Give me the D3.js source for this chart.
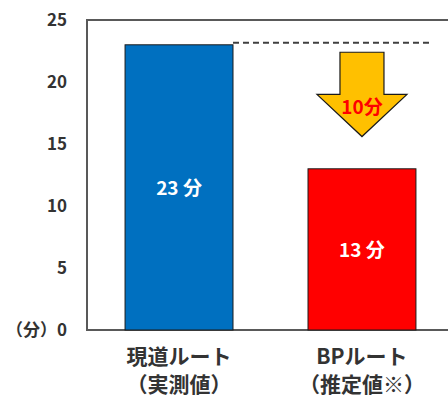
<!DOCTYPE html>
<html>
<head>
<meta charset="utf-8">
<script src="https://cdn.jsdelivr.net/npm/d3@7"></script>
<style>
  body { margin: 0; background: #fff; }
  text { font-family: "Noto Sans CJK JP", "Noto Sans", sans-serif; font-weight: bold; }
</style>
</head>
<body>
<svg id="chart"></svg>
<script>
let width = 448;
let height = 402;
let margin = { top: 20, right: -6, bottom: 72, left: 87 };

// data
const categories = ['現道ルート', 'BPルート'];
const subLabels = ['（実測値）', '（推定値※）'];
const values = [23, 13];
const barLabels = ['23 分', '13 分'];
const yTicks = [0, 5, 10, 15, 20, 25];
const saving = '10分';
const arrowRange = [22.4, 19.0, 15.6]; // top, head start, tip (in minutes)

const COLORS = ['#0070C0', '#FF0000'];

let svg = d3.select('#chart')
  .attr('width', width)
  .attr('height', height);

let x = d3.scaleBand()
  .domain(categories)
  .range([margin.left, width - margin.right])
  .paddingInner(0.41)
  .paddingOuter(0.208);

let y = d3.scaleLinear()
  .domain([0, 25])
  .range([height - margin.bottom, margin.top]);

// frame
svg.append('path')
  .attr('d', `M${width - margin.right},${y(25)}H${margin.left}V${y(0)}H${width - margin.right}`)
  .attr('fill', 'none')
  .attr('stroke', '#595959')
  .attr('stroke-width', 2);

// y tick labels
svg.append('g')
  .selectAll('text')
  .data(yTicks)
  .join('text')
    .attr('x', 67)
    .attr('y', d => y(d))
    .attr('dy', '0.36em')
    .attr('text-anchor', 'end')
    .attr('font-size', 17)
    .attr('fill', '#333')
    .text(d => d === 0 ? '（分）0' : d);

// bars
svg.append('g')
  .selectAll('rect')
  .data(values)
  .join('rect')
    .attr('x', (d, i) => x(categories[i]))
    .attr('y', d => y(d))
    .attr('width', x.bandwidth())
    .attr('height', d => y(0) - y(d))
    .attr('fill', (d, i) => COLORS[i])
    .attr('stroke', '#1a1a1a')
    .attr('stroke-width', 1);

// bar labels
svg.append('g')
  .selectAll('text')
  .data(values)
  .join('text')
    .attr('x', (d, i) => x(categories[i]) + x.bandwidth() / 2)
    .attr('y', d => (y(d) + y(0)) / 2 + 1)
    .attr('dy', '0.36em')
    .attr('text-anchor', 'middle')
    .attr('font-size', 19)
    .attr('fill', '#fff')
    .text((d, i) => barLabels[i]);

// category labels
let cat = svg.append('g');
cat.selectAll('text.c1')
  .data(categories)
  .join('text')
    .attr('class', 'c1')
    .attr('x', d => x(d) + x.bandwidth() / 2)
    .attr('y', 356)
    .attr('dy', '0.36em')
    .attr('text-anchor', 'middle')
    .attr('font-size', 21)
    .attr('fill', '#333')
    .text(d => d);
cat.selectAll('text.c2')
  .data(subLabels)
  .join('text')
    .attr('class', 'c2')
    .attr('x', (d, i) => x(categories[i]) + x.bandwidth() / 2)
    .attr('y', 384)
    .attr('dy', '0.36em')
    .attr('text-anchor', 'middle')
    .attr('font-size', 21)
    .attr('fill', '#333')
    .text(d => d);

// dashed reference line
svg.append('line')
  .attr('x1', x(categories[0]) + x.bandwidth())
  .attr('x2', 431)
  .attr('y1', y(values[0]) - 2)
  .attr('y2', y(values[0]) - 2)
  .attr('stroke', '#404040')
  .attr('stroke-width', 2)
  .attr('stroke-dasharray', '6,4');

// arrow
let cx = x(categories[1]) + x.bandwidth() / 2;
let shaft = 22, head = 45;
svg.append('path')
  .attr('d', `M${cx - shaft},${y(arrowRange[0])}H${cx + shaft}V${y(arrowRange[1])}H${cx + head}` +
    `L${cx},${y(arrowRange[2])}L${cx - head},${y(arrowRange[1])}H${cx - shaft}Z`)
  .attr('fill', '#FFC000')
  .attr('stroke', '#1a1a1a')
  .attr('stroke-width', 1.2);

svg.append('text')
  .attr('x', cx)
  .attr('y', y(arrowRange[1]) + 13)
  .attr('dy', '0.36em')
  .attr('text-anchor', 'middle')
  .attr('font-size', 19)
  .attr('fill', '#FF0000')
  .text(saving);
</script>
</body>
</html>
